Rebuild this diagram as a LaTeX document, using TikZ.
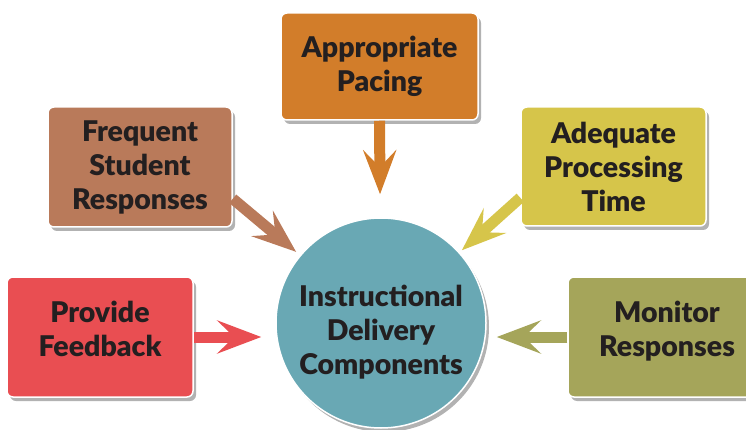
\documentclass[tikz,border=0pt]{standalone}
\usepackage{fontspec}
\setmainfont{Lato}[BoldFont={Lato Black}]
\usetikzlibrary{arrows.meta,shadows,calc}

\definecolor{pacingc}{HTML}{D27D2A}
\definecolor{freqc}{HTML}{B97A5A}
\definecolor{adeqc}{HTML}{D6C54A}
\definecolor{feedc}{HTML}{E94E52}
\definecolor{monc}{HTML}{A5A55A}
\definecolor{centrec}{HTML}{69A8B4}
\definecolor{inkc}{HTML}{231F20}

\tikzset{
  comp/.style={draw=white, line width=1.5pt, rounded corners=6pt, align=center, inner sep=0pt,
    text=inkc, font=\bfseries\fontsize{28.5}{34}\selectfont,
    drop shadow={shadow xshift=3pt, shadow yshift=-4pt, opacity=0.3, fill=black}},
  twoline/.style={text depth=16pt},
  fat/.style={line width=11pt, -{Stealth[length=44pt, width=33pt, inset=17pt]}},
}

\begin{document}
\begin{tikzpicture}[x=1pt, y=1pt]
  \useasboundingbox (0,0) rectangle (746,-430);

  \node[comp, circle, fill=centrec, minimum size=210pt, text height=107pt] (centre) at (381,-323)
    {Instructional\\Delivery\\Components};

  \node[comp, fill=pacingc, minimum width=197pt, minimum height=107pt] (pacing) at (379.5,-66.5)
    {Appropriate\\Pacing};
  \node[comp, fill=freqc, minimum width=184pt, minimum height=120pt] (freq) at (140,-167)
    {Frequent\\Student\\Responses};
  \node[comp, fill=adeqc, minimum width=185pt, minimum height=119pt] (adeq) at (613.5,-166.5)
    {Adequate\\Processing\\Time};
  \node[comp, twoline, fill=feedc, minimum width=186pt, minimum height=120pt] (feed) at (100,-337)
    {Provide\\Feedback};
  \node[comp, twoline, fill=monc, minimum width=198pt, minimum height=120pt] (mon) at (667,-337)
    {Monitor\\Responses};

  \coordinate (freqout) at ($(freq.south east)+(0,29)$);
  \coordinate (adeqout) at ($(adeq.south west)+(0,29)$);

  \draw[fat, pacingc, shorten >=23pt] (pacing.south) -- (centre);
  \draw[fat, freqc, shorten >=5pt] (freqout) -- (centre);
  \draw[fat, adeqc, shorten >=3pt] (adeqout) -- (centre);
  \draw[fat, feedc, shorten >=14pt] (feed.east) -- (feed.east -| centre.west);
  \draw[fat, monc, shorten >=10pt] (mon.west) -- (mon.west -| centre.east);
\end{tikzpicture}
\end{document}
